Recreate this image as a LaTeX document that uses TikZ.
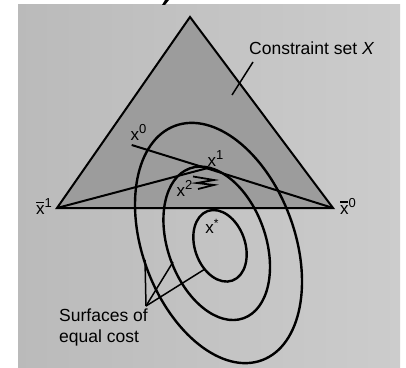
\documentclass[tikz,border=0pt]{standalone}
\usepackage{fontspec}
\setmainfont{Liberation Sans}
\newcommand{\supx}[1]{x\raisebox{7pt}{\fontsize{13}{13}\selectfont #1}}
\newcommand{\barx}[1]{\rlap{\hspace{0.3pt}\raisebox{11.5pt}{\rule{8pt}{1.1pt}}}x\raisebox{7pt}{\fontsize{13}{13}\selectfont #1}}
\definecolor{pagebgL}{gray}{0.73}
\definecolor{pagebgR}{gray}{0.80}
\definecolor{setfill}{gray}{0.61}
\begin{document}
\begin{tikzpicture}[x=1pt,y=1pt,
  edge/.style={line width=2pt,black},
  contour/.style={line width=2.4pt,black},
  leader/.style={line width=1.5pt,black},
  lbl/.style={font=\fontsize{17.5}{21}\selectfont,inner sep=0pt},
  pt/.style={font=\fontsize{17}{20}\selectfont,inner sep=0pt}]
\useasboundingbox (0,0) rectangle (406,367);
% page background
\fill[white] (0,0) rectangle (406,367);
\shade[left color=pagebgL,right color=pagebgR] (18,0) rectangle (400,362);
% partial glyph at top
\fill[black] (165,367) -- (169,367) -- (165,362) -- (162,362) -- cycle;
% triangle
\coordinate (apex) at (190,350);
\coordinate (xb1) at (57,159);
\coordinate (xb0) at (333,159);
\fill[setfill] (apex) -- (xb1) -- (xb0) -- cycle;
\draw[edge,line join=miter] (xb1) -- (apex) -- (xb0) -- cycle;
% ellipses (surfaces of equal cost)
\draw[contour,rotate around={110.4:(218.5,124)}] (218.5,124) ellipse [x radius=125, y radius=76];
\draw[contour,rotate around={109.7:(216.7,123.7)}] (216.7,123.7) ellipse [x radius=79.6, y radius=48.9];
\draw[contour,rotate around={109.5:(220,121.2)}] (220,121.2) ellipse [x radius=36.9, y radius=25.1];
% iterates
\coordinate (x0) at (131.7,222);
\coordinate (x1) at (206.7,198.7);
\draw[edge] (x0) -- (x1) -- (xb0);
\draw[edge] (xb1) -- (x1);
% zigzag near x2
\coordinate (z0) at (193,190.5);
\coordinate (z1) at (214,187);
\coordinate (z2) at (197,184);
\coordinate (z3) at (214,182);
\coordinate (z4) at (198,178);
\draw[line width=1.8pt,line join=miter] (z0) -- (z1) -- (z2) -- (z3) -- (z4);
% labels
\node[pt] (lx0) at (138.5,235) {\supx{0}};
\node[pt] (lx1) at (215.5,208.5) {\supx{1}};
\node[pt] (lx2) at (184.5,178.5) {\supx{2}};
\node[pt] (lxs) at (212,141) {x\raisebox{6pt}{\fontsize{12}{12}\selectfont *}};
\node[pt] (lxb1) at (44,160) {\barx{1}};
\node[pt] (lxb0) at (348,161) {\barx{0}};
% constraint set label
\node[lbl,anchor=west] (cs) at (249,319) {Constraint set \textit{X}};
\coordinate (csa) at (253,305);
\coordinate (csb) at (232,272);
\draw[leader] (csa) -- (csb);
% surfaces label
\node[lbl,anchor=north west,align=left] (sf) at (59,58) {Surfaces of\\equal cost};
\coordinate (sfc) at (146,61);
\coordinate (s1) at (145,107);
\coordinate (s2) at (173,105);
\coordinate (s3) at (205,98);
\draw[leader] (sfc) -- (s1);
\draw[leader] (sfc) -- (s2);
\draw[leader] (sfc) -- (s3);
\end{tikzpicture}
\end{document}
